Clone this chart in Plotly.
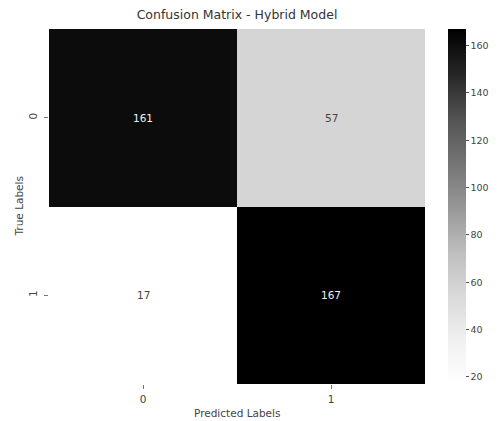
import plotly.graph_objects as go

# Confusion matrix counts: rows = true label, columns = predicted label
class_labels = ["0", "1"]
counts = [
    [161, 57],
    [17, 167],
]
colorbar_ticks = [20, 40, 60, 80, 100, 120, 140, 160]

# matplotlib-style "Greys" ramp (white -> black)
greys = ["#ffffff", "#f0f0f0", "#d9d9d9", "#bdbdbd", "#969696",
         "#737373", "#525252", "#252525", "#000000"]
colorscale = [[i / (len(greys) - 1), c] for i, c in enumerate(greys)]

zmin = min(min(r) for r in counts)
zmax = max(max(r) for r in counts)
mid = (zmin + zmax) / 2

font_family = "DejaVu Sans"
label_size = 10.5
text_color = "#444"

fig = go.Figure(
    go.Heatmap(
        z=counts,
        x=class_labels,
        y=class_labels,
        colorscale=colorscale,
        zmin=zmin,
        zmax=zmax,
        showscale=True,
        colorbar=dict(
            x=1.06, xanchor="left", xpad=0,
            y=0.5, yanchor="middle", ypad=0,
            len=1, lenmode="fraction",
            thickness=18,
            outlinewidth=0,
            tickvals=colorbar_ticks,
            ticks="outside", ticklen=3, tickwidth=1, tickcolor="#555",
            tickfont=dict(family=font_family, size=9.5, color=text_color),
        ),
        hoverinfo="skip",
    )
)

# Cell annotations: white text on dark cells, dark text on light cells
for i, row_label in enumerate(class_labels):
    for j, col_label in enumerate(class_labels):
        v = counts[i][j]
        fig.add_annotation(
            x=col_label, y=row_label, text=str(v), showarrow=False,
            font=dict(family=font_family, size=label_size,
                      color="#f0f0f0" if v > mid else text_color),
        )

# Axis titles
fig.add_annotation(
    text="Predicted Labels", xref="paper", yref="paper", x=0.5, y=0,
    xanchor="center", yanchor="middle", yshift=-29, showarrow=False,
    font=dict(family=font_family, size=label_size, color=text_color),
)
fig.add_annotation(
    text="True Labels", xref="paper", yref="paper", x=0, y=0.5,
    xanchor="center", yanchor="middle", xshift=-31, textangle=-90,
    showarrow=False,
    font=dict(family=font_family, size=label_size, color=text_color),
)

fig.update_layout(
    width=501, height=421,
    margin=dict(l=49, r=69, t=29, b=37),
    paper_bgcolor="white",
    plot_bgcolor="white",
    title=dict(
        text="Confusion Matrix - Hybrid Model",
        x=0.5, xref="paper", xanchor="center",
        y=1, yref="container", yanchor="top", pad=dict(t=10),
        font=dict(family=font_family, size=12.5, color="#333"),
    ),
    xaxis=dict(
        automargin=False,
        tickfont=dict(family=font_family, size=label_size, color=text_color),
        ticks="outside", ticklen=4, tickcolor="#777",
        ticklabelstandoff=1,
        showgrid=False, zeroline=False, showline=False,
    ),
    yaxis=dict(
        automargin=False,
        tickfont=dict(family=font_family, size=label_size, color=text_color),
        tickangle=-90,
        autorange="reversed",
        ticks="outside", ticklen=4, tickcolor="#777",
        ticklabelstandoff=3,
        showgrid=False, zeroline=False, showline=False,
    ),
)

fig.write_html("out.html")
